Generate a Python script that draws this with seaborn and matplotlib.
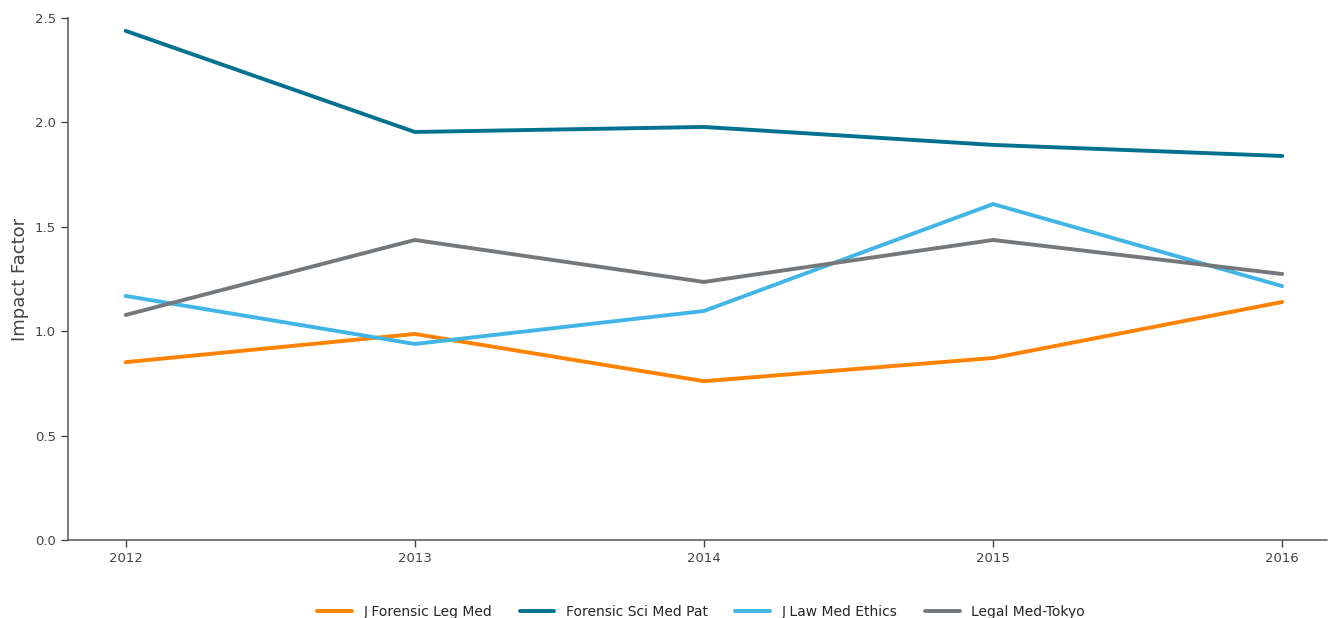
import matplotlib
matplotlib.use("Agg")
import matplotlib.pyplot as plt
import seaborn as sns
import pandas as pd

years = [2012, 2013, 2014, 2015, 2016]
series_names = ["J Forensic Leg Med", "Forensic Sci Med Pat", "J Law Med Ethics", "Legal Med-Tokyo"]
j_forensic_leg_med = [0.852, 0.987, 0.761, 0.872, 1.140]
forensic_sci_med_pat = [2.438, 1.954, 1.978, 1.892, 1.839]
j_law_med_ethics = [1.169, 0.939, 1.097, 1.609, 1.216]
legal_med_tokyo = [1.078, 1.437, 1.236, 1.437, 1.274]
colors = ["#ff8200", "#00718f", "#41b6e6", "#75787b"]

values = [j_forensic_leg_med, forensic_sci_med_pat, j_law_med_ethics, legal_med_tokyo]
rows = []
for name, vals in zip(series_names, values):
    for y, v in zip(years, vals):
        rows.append({"Year": y, "Impact Factor": v, "Journal": name})
df = pd.DataFrame(rows)

sns.set_theme(style="ticks")
plt.rcParams['font.family'] = ['DejaVu Sans']

fig = plt.figure(figsize=(13.3, 6.18), dpi=100)
ax = fig.add_axes([0.051, 0.126, 0.947, 0.845])
sns.lineplot(data=df, x="Year", y="Impact Factor", hue="Journal",
             hue_order=series_names, palette=colors, linewidth=2.8, ax=ax, legend=True)

ax.set_xlim(2011.8, 2016.156)
ax.set_ylim(0, 2.5)
ax.set_xticks(years)
ax.set_xticklabels([str(y) for y in years])
ax.set_yticks([0, 0.5, 1.0, 1.5, 2.0, 2.5])
ax.set_yticklabels(["0.0", "0.5", "1.0", "1.5", "2.0", "2.5"])
ax.set_xlabel("")
ax.set_ylabel("Impact Factor", fontsize=13, color="#444444")
ax.tick_params(axis="both", labelsize=9.5, colors="#444444", length=5, width=1)
for s in ["top", "right"]:
    ax.spines[s].set_visible(False)
for s in ["left", "bottom"]:
    ax.spines[s].set_color("#555555")
    ax.spines[s].set_linewidth(1.1)

handles, labels = ax.get_legend_handles_labels()
ax.get_legend().remove()
fig.legend(handles, labels, loc="upper center", bbox_to_anchor=(0.527, 0.041),
           ncol=4, frameon=False, fontsize=10, handlelength=2.5, columnspacing=2.0)

fig.savefig("out.png", dpi=100)
